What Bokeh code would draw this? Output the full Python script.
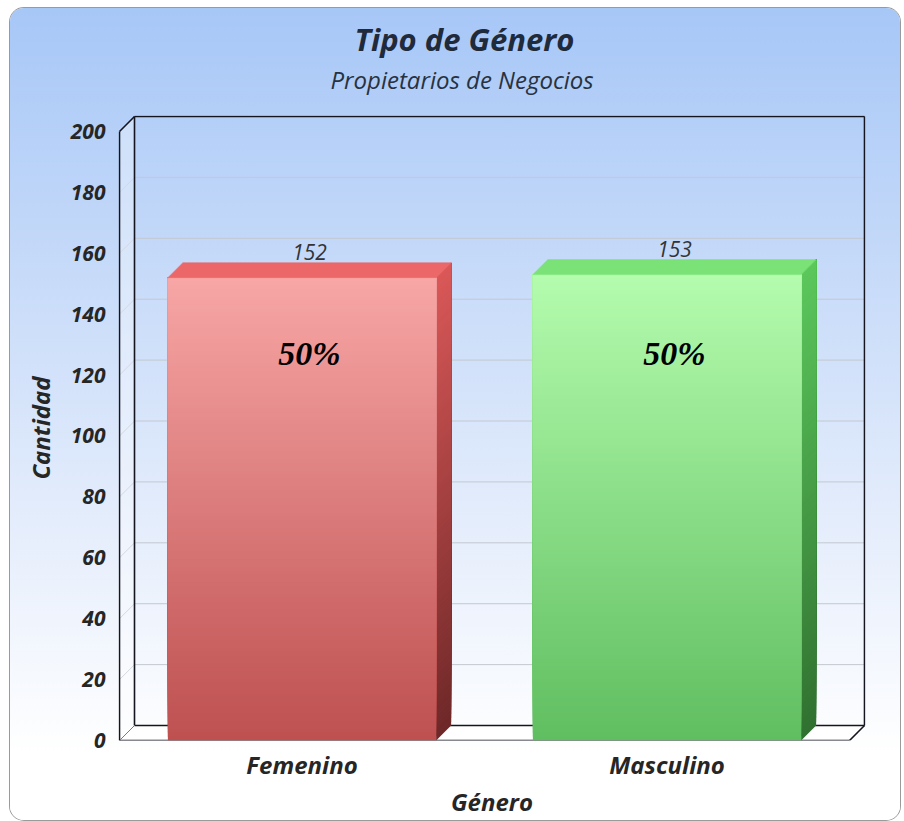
import numpy as np
from bokeh.plotting import figure
from bokeh.models import Range1d, FixedTicker, Title, ColumnDataSource
from bokeh.core.properties import value
from bokeh.embed import file_html
from bokeh.resources import INLINE

# ---------------- data ----------------
categories = ["Femenino", "Masculino"]
counts = [152, 153]
percent_labels = ["50%", "50%"]
y_ticks = [0, 20, 40, 60, 80, 100, 120, 140, 160, 180, 200]
y_axis_max = 200
chart_title = "Tipo de Género"
chart_subtitle = "Propietarios de Negocios"
x_title = "Género"
y_title = "Cantidad"

# ---------------- style / geometry ----------------
W, H = 890, 812
B_LEFT, B_RIGHT, B_TOP, B_BOTTOM = 108, 35, 107, 79
FW = W - B_LEFT - B_RIGHT
FH = H - B_TOP - B_BOTTOM
n_cat = len(categories)
PX_X = 365.0           # pixels per category on the front plane
PX_Y = 3.05            # pixels per unit
DEPTH = 15             # 3D depth in pixels
dx = DEPTH / PX_X
dy = DEPTH / PX_Y
x_start = -1.0 / PX_X
BAR_W = 0.735
PCT_Y = 127            # vertical position of the percentage labels
N_SLICES = 120

FONT = "Open Sans"
INK = "#262626"
FRAME = "#15151f"

bar_colors = [
    dict(front_top=(248, 166, 166), front_bot=(190, 80, 80),
         side_top=(218, 88, 88), side_bot=(110, 40, 40), top=(236, 104, 104)),
    dict(front_top=(180, 252, 174), front_bot=(96, 190, 96),
         side_top=(92, 200, 92), side_bot=(48, 112, 48), top=(122, 226, 118)),
]


def lerp(c0, c1, t):
    return "#%02x%02x%02x" % tuple(int(round(a + (b - a) * t)) for a, b in zip(c0, c1))


p = figure(width=W, height=H, output_backend="svg", toolbar_location=None,
           title=None,
           x_range=Range1d(x_start, x_start + FW / PX_X),
           y_range=Range1d(0, FH / PX_Y),
           min_border_left=B_LEFT, min_border_right=B_RIGHT,
           min_border_top=B_TOP, min_border_bottom=B_BOTTOM)
p.margin = (8, 0, 0, 10)
p.border_fill_color = None
p.background_fill_color = None
p.outline_line_color = None
p.grid.visible = False
p.styles = {
    "background": "linear-gradient(to bottom, #a7c7f7 0%, #c9dcf9 35%, #e6eefc 65%, #ffffff 92%)",
    "border-radius": "14px",
    "box-shadow": "0 0 0 1px #9a9a9a",
}

# titles
p.add_layout(Title(text=chart_subtitle, align="left", offset=212,
                   text_font=FONT, text_font_size="24px", text_font_style="italic",
                   text_color="#28323f", standoff=39), "above")
p.add_layout(Title(text=chart_title, align="left", offset=236,
                   text_font=FONT, text_font_size="31px",
                   text_font_style="bold italic", text_color="#1f2a3a",
                   standoff=-36), "above")

# axes
xa = p.xaxis[0]
xa.ticker = FixedTicker(ticks=[i + 0.5 for i in range(n_cat)])
xa.major_label_overrides = {i + 0.5: c for i, c in enumerate(categories)}
ya = p.yaxis[0]
ya.ticker = FixedTicker(ticks=y_ticks)
for ax in (xa, ya):
    ax.axis_line_color = None
    ax.major_tick_line_color = None
    ax.minor_tick_line_color = None
    ax.major_tick_out = 0
    ax.major_tick_in = 0
    ax.major_label_text_font = FONT
    ax.major_label_text_font_style = "bold italic"
    ax.major_label_text_color = INK
    ax.axis_label_text_font = FONT
    ax.axis_label_text_font_size = "24px"
    ax.axis_label_text_font_style = "bold italic"
    ax.axis_label_text_color = INK
xa.major_label_text_font_size = "24px"
ya.major_label_text_font_size = "21px"
xa.axis_label = x_title
ya.axis_label = y_title
xa.major_label_standoff = 7
xa.axis_label_standoff = 1
ya.major_label_standoff = 13
ya.axis_label_standoff = 11

top_v = y_axis_max
xr = n_cat  # right end of the front plane

# walls fill
p.patch([0, dx, dx, 0], [0, dy, top_v + dy, top_v], fill_color="white",
        fill_alpha=0.35, line_color=None)
p.patch([0, xr, xr + dx, dx], [0, 0, dy, dy], fill_color="white",
        fill_alpha=1.0, line_color=None)

# grid lines on back wall and left wall
inner = [v for v in y_ticks if 0 < v < top_v]
p.multi_line(xs=[[dx, xr + dx] for v in inner], ys=[[v + dy, v + dy] for v in inner],
             line_color="#c4c8d0", line_width=1)
p.multi_line(xs=[[0, dx] for v in inner], ys=[[v, v + dy] for v in inner],
             line_color="#d4d8e0", line_width=1)

# frame lines
frame_xs = [
    [0, 0], [dx, dx], [dx, xr + dx], [xr + dx, xr + dx], [dx, xr + dx],
    [0, xr], [xr, xr + dx], [0, dx],
]
frame_ys = [
    [0, top_v], [dy, top_v + dy], [top_v + dy, top_v + dy], [dy, top_v + dy], [dy, dy],
    [0, 0], [0, dy], [top_v, top_v + dy],
]
p.multi_line(xs=frame_xs, ys=frame_ys, line_color=FRAME, line_width=1.6)
p.line([0, dx], [0, dy], line_color="#7a7a7a", line_width=1)

# bars (gradient built from overlapping slices, each running up to the bar top)
fq = dict(left=[], right=[], bottom=[], top=[], color=[])
sp = dict(xs=[], ys=[], color=[])
tp = dict(xs=[], ys=[], color=[])
for i, v in enumerate(counts):
    cx = i + 0.5
    l, r = cx - BAR_W / 2, cx + BAR_W / 2
    col = bar_colors[i]
    edges = np.linspace(0, v, N_SLICES + 1)
    for k in range(N_SLICES):
        t = (k + 0.5) / N_SLICES
        b0 = edges[k]
        fq["left"].append(l)
        fq["right"].append(r)
        fq["bottom"].append(b0)
        fq["top"].append(v)
        fq["color"].append(lerp(col["front_bot"], col["front_top"], t))
        sp["xs"].append([r, r + dx, r + dx, r])
        sp["ys"].append([b0, b0 + dy, v + dy, v])
        sp["color"].append(lerp(col["side_bot"], col["side_top"], t))
    tp["xs"].append([l, r, r + dx, l + dx])
    tp["ys"].append([v, v, v + dy, v + dy])
    tp["color"].append(lerp(col["top"], col["top"], 0))

p.patches("xs", "ys", source=ColumnDataSource(sp), fill_color="color",
          line_color=None)
p.quad(left="left", right="right", bottom="bottom", top="top",
       source=ColumnDataSource(fq), fill_color="color", line_color=None)
p.patches("xs", "ys", source=ColumnDataSource(tp), fill_color="color",
          line_color="color", line_width=0.5)

# value labels
p.text(x=[i + 0.5 + dx / 2 for i in range(n_cat)], y=[v + dy for v in counts],
       text=[str(v) for v in counts], text_align="center", text_baseline="bottom",
       y_offset=-3, text_font=value(FONT), text_font_size="21px",
       text_font_style="italic", text_color="#333333")

# percentage labels
p.text(x=[i + 0.5 + dx / 2 for i in range(n_cat)], y=[PCT_Y] * n_cat,
       text=percent_labels, text_align="center", text_baseline="middle",
       text_font=value("Liberation Serif"), text_font_size="34px",
       text_font_style="bold italic", text_color="black")

open("out.html", "w").write(file_html(p, INLINE))
